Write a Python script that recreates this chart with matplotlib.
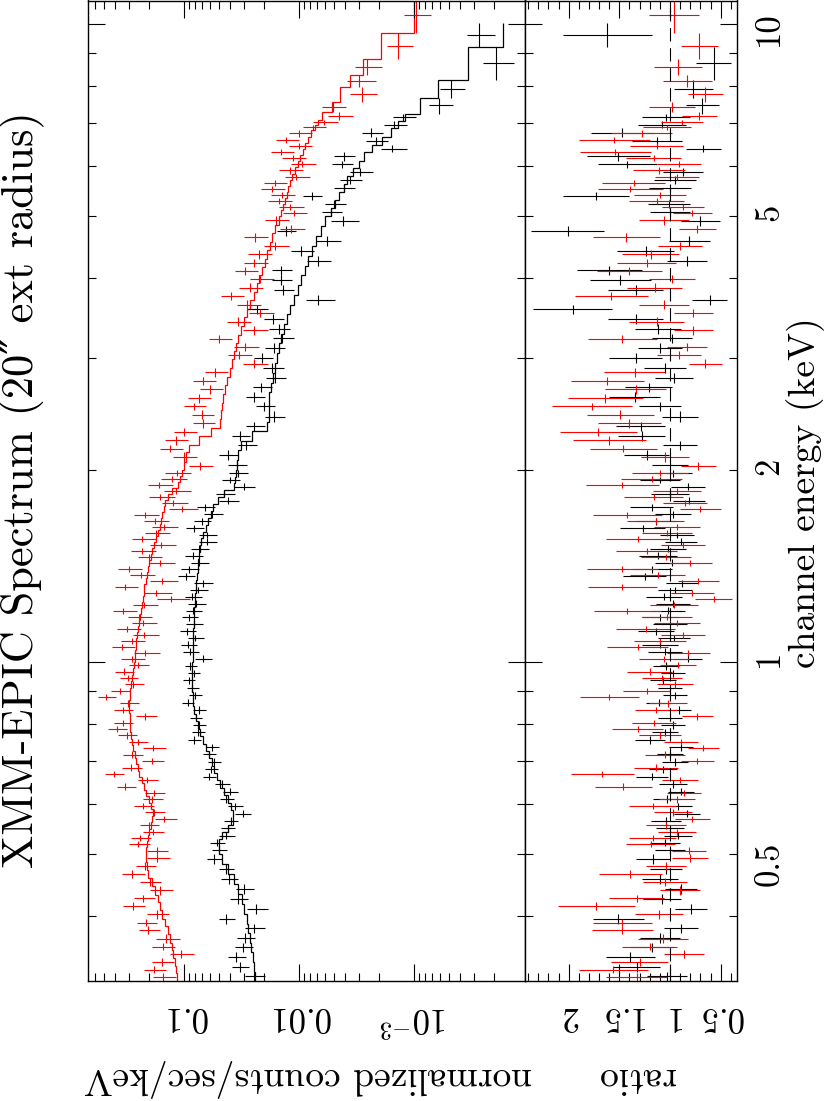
import numpy as np
import matplotlib
matplotlib.use("Agg")
import matplotlib.pyplot as plt
from matplotlib.ticker import FixedLocator, FixedFormatter, NullFormatter, FuncFormatter, LogLocator, MultipleLocator

# ---------------- data ----------------
# red data set: channel bin edges (keV), model (counts/s/keV), data/model ratio, ratio error
red_edges = [0.316, 0.325, 0.334, 0.343, 0.353, 0.363, 0.374, 0.385, 0.396, 0.408, 0.420, 0.432, 0.445, 0.458, 0.472, 0.486, 0.500,
             0.512, 0.524, 0.536, 0.548, 0.561, 0.574, 0.588, 0.602, 0.616, 0.630, 0.645, 0.660, 0.675, 0.691, 0.707,
             0.724, 0.741, 0.758, 0.776, 0.794, 0.812, 0.831, 0.851, 0.871, 0.891, 0.912, 0.933, 0.955, 0.977, 1.000,
             1.022, 1.044, 1.067, 1.090, 1.114, 1.139, 1.164, 1.189, 1.215, 1.242, 1.269, 1.297, 1.325, 1.354, 1.384, 1.414,
             1.445, 1.477, 1.509, 1.542, 1.576, 1.611, 1.646, 1.682, 1.719, 1.757, 1.795, 1.834, 1.875, 1.916, 1.958, 2.000,
             2.06, 2.13, 2.19, 2.26, 2.33, 2.40, 2.48, 2.55, 2.63, 2.72, 2.80, 2.89, 2.98, 3.07, 3.16,
             3.26, 3.36, 3.47, 3.57, 3.69, 3.80, 3.92, 4.04, 4.16, 4.29, 4.43, 4.56, 4.71, 4.85, 5.00,
             5.11, 5.22, 5.34, 5.46, 5.58, 5.70, 5.83, 5.96, 6.09, 6.23, 6.37, 6.51, 6.66, 6.82, 6.95, 7.07,
             7.29, 7.56, 7.97, 8.32, 8.80, 9.69, 11.0]
red_model = [0.114, 0.117, 0.120, 0.124, 0.128, 0.133, 0.139, 0.146, 0.154, 0.162, 0.170, 0.178, 0.190, 0.204, 0.210, 0.214,
             0.214, 0.210, 0.207, 0.201, 0.195, 0.190, 0.187, 0.193, 0.203, 0.212, 0.222, 0.232, 0.244, 0.253, 0.262,
             0.269, 0.276, 0.283, 0.287, 0.292, 0.295, 0.297, 0.299, 0.299, 0.297, 0.295, 0.290, 0.284, 0.278, 0.273,
             0.268, 0.265, 0.262, 0.259, 0.254, 0.250, 0.246, 0.241, 0.237, 0.233, 0.229, 0.225, 0.221, 0.216, 0.211, 0.206,
             0.201, 0.195, 0.188, 0.181, 0.175, 0.169, 0.162, 0.158, 0.154, 0.150, 0.146, 0.139, 0.127, 0.113, 0.108, 0.105,
             0.101, 0.096, 0.090, 0.074, 0.058, 0.049, 0.0472, 0.0465, 0.0456, 0.0440, 0.0421, 0.0398, 0.0381, 0.0368, 0.0355,
             0.0338, 0.0321, 0.0302, 0.0284, 0.0265, 0.0248, 0.0234, 0.0221, 0.0211, 0.0199, 0.0188, 0.0179, 0.0170, 0.0161, 0.0150,
             0.0143, 0.0138, 0.0133, 0.0128, 0.0124, 0.0120, 0.0114, 0.0108, 0.0103, 0.0098, 0.0093, 0.0088, 0.0083, 0.0078, 0.0073, 0.0069,
             0.0063, 0.0052, 0.0044, 0.0036, 0.0028, 0.00194, 0.00101]
red_ratio = [1.33, 1.56, 1.30, 0.86, 1.20, 1.07, 1.47, 1.47, 1.11, 1.73, 1.33, 0.90, 1.05, 1.39, 1.04, 0.80,
             0.81, 1.19, 1.17, 0.93, 1.04, 0.78, 0.97, 1.17, 0.93, 0.86, 1.46, 0.90, 1.67, 1.14, 0.73,
             1.05, 0.67, 0.89, 1.10, 1.32, 1.16, 0.73, 1.14, 1.02, 1.60, 1.23, 0.95, 1.08, 1.20, 0.92,
             1.06, 0.82, 1.32, 1.10, 0.87, 1.24, 0.93, 1.03, 1.42, 0.96, 0.57, 0.78, 1.47, 0.72, 1.12, 1.47,
             0.80, 1.04, 1.23, 0.87, 1.32, 1.03, 0.93, 1.14, 1.42, 0.70, 0.85, 1.16, 0.93, 1.47, 1.18, 1.10,
             0.72, 1.05, 1.46, 1.60, 1.71, 1.40, 1.49, 1.77, 1.64, 1.34, 1.62, 1.35, 0.65, 0.91, 0.83,
             1.47, 0.77, 1.13, 0.77, 1.06, 1.58, 1.15, 0.98, 1.40, 1.23, 1.19, 0.90, 1.43, 0.73, 1.06,
             0.78, 0.87, 1.13, 1.10, 1.39, 1.36, 0.93, 1.11, 0.91, 1.16, 1.54, 1.13, 1.55, 1.28, 1.03, 0.88,
             0.71, 0.98, 0.65, 0.83, 0.92, 0.71, 0.96]
red_rerr = [0.30, 0.34, 0.28, 0.20, 0.27, 0.25, 0.30, 0.29, 0.24, 0.38, 0.27, 0.20, 0.22, 0.31, 0.20, 0.18,
            0.17, 0.24, 0.23, 0.19, 0.20, 0.17, 0.19, 0.23, 0.18, 0.17, 0.28, 0.18, 0.31, 0.22, 0.16,
            0.20, 0.15, 0.17, 0.21, 0.25, 0.22, 0.15, 0.21, 0.19, 0.29, 0.23, 0.18, 0.20, 0.22, 0.18,
            0.25, 0.21, 0.30, 0.26, 0.22, 0.29, 0.23, 0.25, 0.33, 0.24, 0.18, 0.21, 0.34, 0.20, 0.27, 0.35,
            0.21, 0.25, 0.30, 0.22, 0.31, 0.25, 0.23, 0.28, 0.34, 0.20, 0.22, 0.29, 0.24, 0.36, 0.30, 0.28,
            0.17, 0.24, 0.33, 0.36, 0.38, 0.31, 0.33, 0.39, 0.37, 0.30, 0.36, 0.30, 0.16, 0.22, 0.20,
            0.34, 0.19, 0.27, 0.19, 0.25, 0.36, 0.27, 0.23, 0.32, 0.29, 0.28, 0.22, 0.33, 0.18, 0.25,
            0.19, 0.21, 0.27, 0.26, 0.32, 0.31, 0.22, 0.26, 0.22, 0.27, 0.35, 0.26, 0.35, 0.30, 0.24, 0.21,
            0.17, 0.23, 0.17, 0.24, 0.24, 0.18, 0.25]

# black data set
black_edges = [0.316, 0.327, 0.339, 0.351, 0.363, 0.376, 0.389, 0.403, 0.418, 0.433, 0.448, 0.465, 0.482, 0.500,
               0.514, 0.527, 0.541, 0.556, 0.571, 0.586, 0.602, 0.618, 0.635, 0.652, 0.670, 0.688, 0.707,
               0.726, 0.745, 0.765, 0.786, 0.807, 0.829, 0.852, 0.875, 0.898, 0.923, 0.948, 0.973, 1.000,
               1.025, 1.051, 1.077, 1.104, 1.132, 1.160, 1.189, 1.219, 1.250, 1.281, 1.313, 1.346, 1.380, 1.414,
               1.450, 1.486, 1.523, 1.562, 1.601, 1.641, 1.682, 1.725, 1.768, 1.812, 1.858, 1.905, 1.952, 2.000,
               2.07, 2.15, 2.22, 2.30, 2.38, 2.47, 2.56, 2.65, 2.74, 2.84, 2.94, 3.05, 3.16,
               3.27, 3.39, 3.51, 3.63, 3.76, 3.90, 4.04, 4.18, 4.33, 4.49, 4.65, 4.82, 5.00,
               5.15, 5.30, 5.45, 5.61, 5.77, 5.94, 6.11, 6.29, 6.47, 6.66, 6.86, 7.05, 7.24,
               7.67, 8.17, 9.21, 10.02]
black_model = [0.0239, 0.0246, 0.0253, 0.0260, 0.0268, 0.0276, 0.0284, 0.0298, 0.0314, 0.0339, 0.0370, 0.0415, 0.0468,
               0.0497, 0.0492, 0.0465, 0.0416, 0.0378, 0.0372, 0.0390, 0.0415, 0.0447, 0.0482, 0.0514, 0.0545, 0.0576,
               0.0608, 0.0643, 0.0680, 0.0721, 0.0760, 0.0792, 0.0815, 0.0833, 0.0842, 0.0845, 0.0847, 0.0847, 0.0845,
               0.0840, 0.0837, 0.0834, 0.0831, 0.0827, 0.0823, 0.0819, 0.0814, 0.0806, 0.0798, 0.0789, 0.0780, 0.0770, 0.0762,
               0.0755, 0.0742, 0.0725, 0.0708, 0.0680, 0.0643, 0.0615, 0.0585, 0.0558, 0.0510, 0.0445, 0.0368, 0.0360, 0.0353,
               0.0348, 0.0339, 0.0320, 0.0255, 0.0190, 0.0183, 0.0182, 0.0181, 0.0176, 0.0169, 0.0162, 0.0155, 0.0149,
               0.0142, 0.0134, 0.0126, 0.0119, 0.0111, 0.0103, 0.0096, 0.0089, 0.0083, 0.0077, 0.0071, 0.0065, 0.0059,
               0.0053, 0.0049, 0.0045, 0.0041, 0.0038, 0.0034, 0.0030, 0.0027, 0.0023, 0.0019, 0.0016, 0.00138, 0.00120,
               0.000888, 0.000615, 0.000337, 0.000167]
black_ratio = [1.03, 1.33, 1.39, 1.18, 1.10, 0.89, 1.51, 0.79, 1.08, 0.89, 1.10, 1.04, 1.17,
               1.00, 1.05, 0.92, 1.00, 1.04, 0.83, 0.92, 1.03, 0.89, 0.97, 1.18, 1.07, 0.95,
               1.00, 0.89, 1.20, 1.05, 0.97, 1.00, 0.91, 1.11, 0.95, 1.00, 1.07, 0.97, 1.04,
               0.82, 1.05, 1.10, 0.96, 1.14, 1.00, 1.10, 1.02, 0.97, 1.06, 0.95, 0.88, 1.25, 1.18,
               0.98, 1.12, 1.02, 0.89, 0.93, 1.27, 1.14, 0.97, 1.18, 0.81, 1.00, 0.82, 1.10, 0.97,
               1.00, 1.23, 0.90, 1.28, 1.29, 0.90, 1.10, 1.35, 1.21, 0.96, 1.05, 1.34, 1.10,
               0.98, 1.12, 1.34, 1.96, 0.61, 1.34, 1.49, 1.60, 0.83, 1.24, 0.81, 2.01, 0.70,
               1.00, 1.01, 1.73, 1.00, 0.95, 0.87, 1.42, 1.51, 0.67, 1.13, 1.47, 1.08, 1.04,
               0.68, 0.77, 0.57, 1.62]
black_rerr = [0.20, 0.23, 0.24, 0.21, 0.20, 0.17, 0.25, 0.16, 0.19, 0.16, 0.18, 0.16, 0.17,
              0.15, 0.15, 0.14, 0.14, 0.15, 0.13, 0.14, 0.14, 0.13, 0.14, 0.16, 0.14, 0.13,
              0.13, 0.12, 0.15, 0.13, 0.12, 0.12, 0.12, 0.13, 0.12, 0.12, 0.13, 0.12, 0.13,
              0.14, 0.17, 0.18, 0.16, 0.18, 0.17, 0.18, 0.17, 0.17, 0.18, 0.17, 0.16, 0.21, 0.20,
              0.17, 0.19, 0.18, 0.16, 0.17, 0.22, 0.20, 0.18, 0.21, 0.16, 0.19, 0.17, 0.20, 0.19,
              0.18, 0.22, 0.17, 0.23, 0.24, 0.18, 0.21, 0.25, 0.23, 0.19, 0.21, 0.26, 0.22,
              0.20, 0.23, 0.27, 0.39, 0.17, 0.27, 0.30, 0.32, 0.20, 0.28, 0.20, 0.36, 0.19,
              0.20, 0.21, 0.33, 0.21, 0.21, 0.20, 0.29, 0.31, 0.17, 0.25, 0.31, 0.24, 0.24,
              0.16, 0.19, 0.17, 0.44]

# axis ticks / labels
count_ticks = [0.1, 0.01, 0.001]
count_labels = ["0.1", "0.01", r"$10^{-3}$"]
ratio_ticks = [0.5, 1.0, 1.5, 2.0]
ratio_labels = ["0.5", "1", "1.5", "2"]
energy_major = [1.0, 10.0]
energy_minor = [0.4, 0.5, 0.6, 0.7, 0.8, 0.9, 2, 3, 4, 5, 6, 7, 8, 9]
energy_label_vals = [0.5, 1.0, 2.0, 5.0, 10.0]
energy_label_text = ["0.5", "1", "2", "5", "10"]
title_text = "XMM-EPIC Spectrum (20\u2033 ext radius)"
xlabel_text = "channel energy (keV)"
ylabel_top = "normalized counts/sec/keV"
ylabel_bot = "ratio"

# ---------------- figure ----------------
plt.rcParams['font.family'] = ['cmr10', 'DejaVu Serif']
plt.rcParams['mathtext.fontset'] = 'cm'
plt.rcParams['axes.unicode_minus'] = False

W, H = 830, 1101
fig = plt.figure(figsize=(W / 100, H / 100), dpi=100)
bot = 1 - 981 / H
hgt = (981 - 0.5) / H
ax1 = fig.add_axes([88 / W, bot, (525 - 88) / W, hgt])
ax2 = fig.add_axes([525 / W, bot, (737 - 525) / W, hgt])

E_LO, E_HI = 0.3162, 10.886

def energy_fmt(v, pos):
    for val, txt in zip(energy_label_vals, energy_label_text):
        if abs(v - val) < 1e-6 * val:
            return txt
    return ""

for ax in (ax1, ax2):
    ax.set_yscale('log')
    ax.set_ylim(E_LO, E_HI)
    ax.yaxis.set_major_locator(FixedLocator(energy_major))
    ax.yaxis.set_minor_locator(FixedLocator(energy_minor))
    for s in ax.spines.values():
        s.set_linewidth(1.0)
        s.set_color('black')
    ax.tick_params(axis='both', which='both', direction='in', top=True, bottom=True,
                   left=True, right=True, width=0.8, color='black')
    ax.tick_params(which='major', length=12)
    ax.tick_params(which='minor', length=6)

lw = 0.8
datasets = [(black_edges, black_model, black_ratio, black_rerr, 'black'),
            (red_edges, red_model, red_ratio, red_rerr, '#ff0000')]
for edges, model, ratio, rerr, col in datasets:
    e = np.array(edges)
    m = np.array(model)
    r = np.array(ratio)
    s = np.array(rerr)
    lo, hi = e[:-1], e[1:]
    cen = 0.5 * (lo + hi)
    yerr = [cen - lo, hi - cen]
    ax1.errorbar(m * r, cen, xerr=m * s, yerr=yerr, fmt='none', ecolor=col,
                 elinewidth=lw, capsize=0)
    ax1.stairs(m, e, orientation='horizontal', baseline=None, color=col, lw=0.9)
    ax2.errorbar(r, cen, xerr=s, yerr=yerr, fmt='none', ecolor=col,
                 elinewidth=lw, capsize=0)

ax2.axvline(1.0, color='black', lw=0.8, ls=(0, (12, 6)))

# counts axis
ax1.set_xscale('log')
ax1.set_xlim(0.6836, 1.0834e-4)
ax1.xaxis.set_major_locator(FixedLocator(count_ticks))
ax1.xaxis.set_major_formatter(FixedFormatter(count_labels))
ax1.xaxis.set_minor_locator(LogLocator(base=10, subs=np.arange(2, 10)))
ax1.xaxis.set_minor_formatter(NullFormatter())
ax1.yaxis.set_major_formatter(NullFormatter())
ax1.yaxis.set_minor_formatter(NullFormatter())
ax1.tick_params(axis='y', which='both', labelleft=False, labelright=False)
ax1.tick_params(axis='x', which='both', labelbottom=True, labeltop=False,
                labelrotation=180, labelsize=25, pad=14)

# ratio axis
ax2.set_xlim(2.4314, 0.3386)
ax2.xaxis.set_major_locator(FixedLocator(ratio_ticks))
ax2.xaxis.set_major_formatter(FixedFormatter(ratio_labels))
ax2.xaxis.set_minor_locator(MultipleLocator(0.1))
ax2.xaxis.set_minor_formatter(NullFormatter())
ax2.tick_params(axis='x', which='both', labelbottom=True, labeltop=False,
                labelrotation=180, labelsize=25, pad=14)
ax2.yaxis.set_major_formatter(FuncFormatter(energy_fmt))
ax2.yaxis.set_minor_formatter(FuncFormatter(energy_fmt))
ax2.tick_params(axis='y', which='both', labelleft=False, labelright=True,
                labelrotation=90, labelsize=25, pad=12)

# texts
fig.text(22 / W, 1 - 490 / H, title_text, rotation=90, ha='center', va='center', fontsize=32)
fig.text(806 / W, 1 - 493 / H, xlabel_text, rotation=90, ha='center', va='center', fontsize=27)
fig.text(308 / W, 1 - 1078 / H, ylabel_top, rotation=180, ha='center', va='center', fontsize=27)
fig.text(636 / W, 1 - 1078 / H, ylabel_bot, rotation=180, ha='center', va='center', fontsize=27)

fig.savefig('out.png', dpi=100)
